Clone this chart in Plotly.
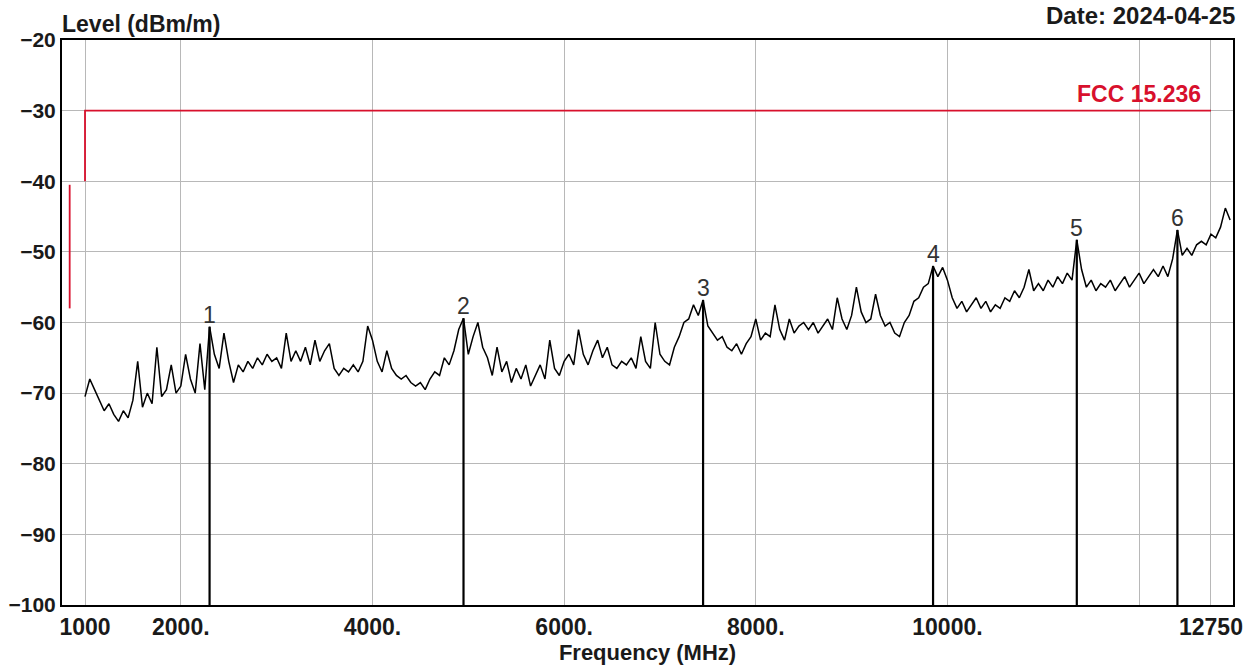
import plotly.graph_objects as go

# ---- data ----
freq_start = 1000
freq_step = 50
levels = [
    -70.5, -68.0, -69.5, -71.0, -72.5, -71.5, -73.0, -74.0, -72.5, -73.5,
    -71.0, -65.5, -72.0, -70.0, -71.5, -63.5, -70.5, -69.5, -66.0, -70.0,
    -69.0, -64.5, -68.0, -70.0, -63.0, -69.5, -60.6, -64.5, -66.5, -61.5,
    -65.5, -68.5, -66.0, -67.0, -65.5, -66.5, -65.0, -66.0, -64.5, -65.5,
    -65.0, -66.5, -61.5, -65.5, -64.0, -65.5, -63.5, -66.0, -62.5, -65.5,
    -64.0, -63.0, -66.5, -67.5, -66.5, -67.0, -66.0, -67.0, -65.5, -60.5,
    -62.5, -65.5, -67.0, -64.0, -66.5, -67.5, -68.0, -67.5, -68.5, -69.0,
    -68.5, -69.5, -68.0, -67.0, -67.5, -65.0, -66.0, -64.0, -61.0, -59.4,
    -64.5, -62.0, -60.0, -63.5, -65.0, -67.5, -63.5, -67.0, -65.5, -68.5,
    -66.5, -68.0, -66.0, -69.0, -67.5, -66.0, -68.0, -62.5, -66.5, -67.5,
    -65.5, -64.5, -66.0, -61.0, -64.5, -66.0, -64.0, -62.5, -65.0, -63.5,
    -66.0, -66.5, -65.5, -66.0, -65.0, -66.5, -62.0, -65.5, -66.5, -60.0,
    -64.5, -65.5, -66.0, -63.5, -62.0, -60.0, -59.5, -57.5, -59.0, -56.8,
    -60.5, -61.5, -62.5, -62.0, -63.5, -64.0, -63.0, -64.5, -63.0, -62.0,
    -59.5, -62.5, -61.5, -62.0, -57.5, -61.0, -62.5, -59.5, -61.5, -60.5,
    -60.0, -61.0, -60.0, -61.5, -60.5, -59.5, -61.0, -56.5, -59.5, -61.0,
    -59.0, -55.0, -58.5, -60.0, -59.5, -56.0, -59.0, -60.5, -60.0, -61.5,
    -62.0, -60.0, -59.0, -57.0, -56.5, -55.0, -54.5, -52.0, -53.5, -52.2,
    -54.0, -56.5, -58.0, -57.0, -58.5, -57.5, -56.5, -58.0, -57.0, -58.5,
    -57.5, -58.0, -56.5, -57.0, -55.5, -56.5, -55.0, -52.5, -55.5, -54.5,
    -55.5, -54.0, -55.0, -53.5, -54.5, -53.0, -54.0, -48.3, -52.5, -55.0,
    -54.0, -55.5, -54.5, -55.0, -54.0, -55.5, -54.5, -53.5, -55.0, -54.0,
    -53.0, -54.5, -53.5, -52.5, -53.5, -52.0, -53.5, -51.0, -46.9, -50.5,
    -49.5, -50.5, -49.0, -48.5, -49.0, -47.5, -48.0, -46.5, -43.8, -45.5,
]
freqs = [freq_start + freq_step * i for i in range(len(levels))]

marker_labels = ["1", "2", "3", "4", "5", "6"]
marker_freqs = [2300, 4950, 7450, 9850, 11350, 12400]
marker_levels = [-60.6, -59.4, -56.8, -52.0, -48.3, -46.9]

limit_freqs = [1000, 1000, 12750]
limit_levels = [-40, -30, -30]
limit2_freqs = [840, 840]
limit2_levels = [-40.5, -58]
limit_name = "FCC 15.236"

x_tickvals = [1000, 2000, 4000, 6000, 8000, 10000, 12000, 12750]
x_ticktext = ["1000", "2000.", "4000.", "6000.", "8000.", "10000.", "", "12750"]
y_tickvals = [-20, -30, -40, -50, -60, -70, -80, -90, -100]

RED = "#d8102c"
FONT = "Liberation Sans, Arial, sans-serif"
TXT = "#1a1a1a"

fig = go.Figure()

fig.add_trace(go.Scatter(x=limit_freqs, y=limit_levels, mode="lines",
                         line=dict(color=RED, width=1.8), hoverinfo="skip"))
fig.add_trace(go.Scatter(x=limit2_freqs, y=limit2_levels, mode="lines",
                         line=dict(color=RED, width=1.8), hoverinfo="skip"))

fig.add_trace(go.Scatter(x=freqs, y=levels, mode="lines",
                         line=dict(color="black", width=1.5)))

# marker lines
mx, my = [], []
for f, l in zip(marker_freqs, marker_levels):
    mx += [f, f, None]
    my += [-100, l, None]
fig.add_trace(go.Scatter(x=mx, y=my, mode="lines",
                         line=dict(color="black", width=2.2), hoverinfo="skip"))

for lab, f, l in zip(marker_labels, marker_freqs, marker_levels):
    fig.add_annotation(x=f, y=l, text=lab, showarrow=False, yanchor="bottom",
                       yshift=-3, font=dict(family=FONT, size=23, color="#333333"))

fig.add_annotation(x=limit_freqs[-1] - 80, y=-30, text=limit_name, showarrow=False,
                   xanchor="right", yanchor="bottom", yshift=2,
                   font=dict(family=FONT, size=23, color=RED, weight="bold"))

fig.add_annotation(xref="paper", yref="paper", x=0.0, y=1, text="Level (dBm/m)",
                   showarrow=False, xanchor="left", yanchor="bottom", yshift=1,
                   xshift=-2,
                   font=dict(family=FONT, size=23, color=TXT, weight="bold"))
fig.add_annotation(xref="paper", yref="paper", x=1.0, y=1, text="Date: 2024-04-25",
                   showarrow=False, xanchor="right", yanchor="bottom", yshift=9,
                   xshift=4,
                   font=dict(family=FONT, size=24, color=TXT, weight="bold"))

fig.update_layout(
    width=1259, height=671,
    margin=dict(l=62, r=26, t=40, b=66),
    paper_bgcolor="white", plot_bgcolor="white",
    showlegend=False,
    font=dict(family=FONT, color=TXT),
    xaxis=dict(range=[760, 12980], tickmode="array", tickvals=x_tickvals,
               ticktext=x_ticktext, showgrid=True, gridcolor="#b8b8b8", gridwidth=1,
               zeroline=False, showline=True, linecolor="black", linewidth=2,
               mirror=True, ticks="", ticklen=0, automargin=False,
               tickfont=dict(family=FONT, size=23, color=TXT, weight="bold"),
               title=dict(text="Frequency (MHz)", standoff=5,
                          font=dict(family=FONT, size=22, color=TXT, weight="bold"))),
    yaxis=dict(range=[-100, -20], tickmode="array", tickvals=y_tickvals,
               showgrid=True, gridcolor="#b8b8b8", gridwidth=1,
               zeroline=False, showline=True, linecolor="black", linewidth=2,
               mirror=True, ticks="", ticklen=0, automargin=False,
               tickfont=dict(family=FONT, size=21, color=TXT, weight="bold")),
)

fig.write_html("out.html")
